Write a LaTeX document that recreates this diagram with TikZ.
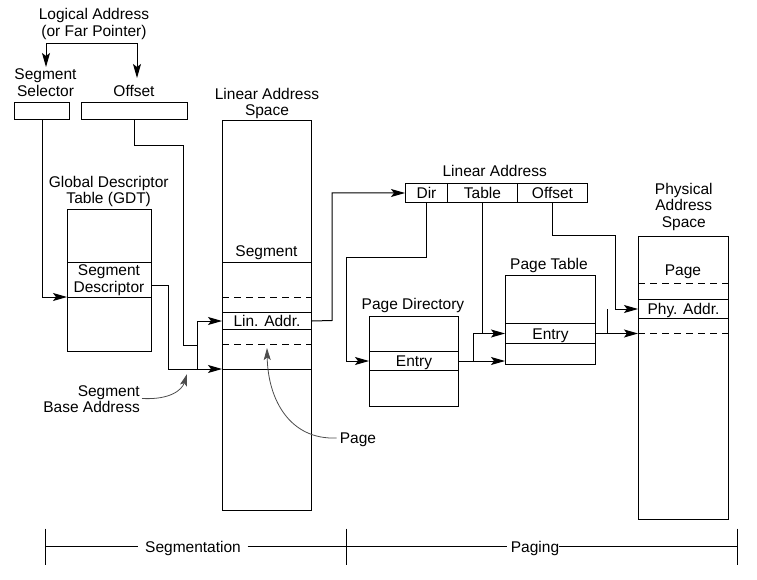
\documentclass[tikz,border=0pt]{standalone}
\usepackage{fontspec}
\setmainfont{Liberation Sans}
\usetikzlibrary{arrows.meta}
\begin{document}
\begin{tikzpicture}[x=1pt,y=-1pt,
  every node/.style={font=\fontsize{15.5}{16.5}\selectfont, inner sep=0pt, text height=11pt, text depth=0pt, align=center},
  box/.style={draw, line width=1pt, anchor=north west},
  ln/.style={line width=1pt},
  arr/.style={line width=1pt, -{Stealth[length=14pt,width=8pt,inset=3pt]}},
  dline/.style={line width=1pt, dash pattern=on 7pt off 5pt},
  lead/.style={line width=0.8pt, draw=black!70, -{Stealth[length=12pt,width=7pt,inset=2.5pt]}}
]
\useasboundingbox (0,0) rectangle (757,580);

% ---------- labels (multi-line nodes are placed by their last line) ----------
\node (la) at (94,31) {Logical Address\\(or Far Pointer)};
\node (sellbl) at (45.5,91) {Segment\\Selector};
\node (offlbl) at (134,91) {Offset};
\node (laslbl) at (267,110.5) {Linear Address\\Space};
\node (gdtlbl) at (108.7,198) {Global Descriptor\\Table (GDT)};
\node (lalbl) at (494.7,171.2) {Linear Address};
\node (pdlbl) at (413,303.5) {Page Directory};
\node (ptlbl) at (549,263.5) {Page Table};
\node (paslbl) at (683.8,221.5) {Physical\\Address\\Space};
\node[anchor=east, align=right] (sba) at (140,407) {Segment\\Base Address};
\node (pglbl) at (358,438) {Page};

% ---------- boxes ----------
\node[box, minimum width=55pt, minimum height=17pt] (sel) at (14,102) {};
\node[box, minimum width=106pt, minimum height=17pt] (offb) at (81,102) {};

\node[box, minimum width=84pt, minimum height=53pt] (gdt1) at (67,209) {};
\node[box, minimum width=84pt, minimum height=35pt] (gdtd) at (67,262) {};
\node (gdtdlbl) at (109,286.5) {Segment\\Descriptor};
\node[box, minimum width=84pt, minimum height=54pt] (gdt3) at (67,297) {};

\node[box, minimum width=89pt, minimum height=390pt] (las) at (222,120) {};
\node (lasseg) at (266.5,251) {Segment};
\draw[ln] (las.west |- 0,262) -- (las.east |- 0,262);
\draw[dline] (las.west |- 0,297) -- (las.east |- 0,297);
\node[box, minimum width=89pt, minimum height=17pt] (lasl) at (222,312) {Lin. Addr.};
\draw[dline] (las.west |- 0,344) -- (las.east |- 0,344);
\draw[ln] (las.west |- 0,369) -- (las.east |- 0,369);

\node[box, minimum width=42pt, minimum height=19pt] (dir) at (405,183) {Dir};
\node[box, minimum width=70pt, minimum height=19pt] (tab) at (447,183) {Table};
\node[box, minimum width=70pt, minimum height=19pt] (offp) at (517,183) {Offset};

\node[box, minimum width=89pt, minimum height=35pt] (pd1) at (369,316) {};
\node[box, minimum width=89pt, minimum height=19pt] (pde) at (369,351) {Entry};
\node[box, minimum width=89pt, minimum height=36pt] (pd3) at (369,370) {};

\node[box, minimum width=90pt, minimum height=48pt] (pt1) at (505,275) {};
\node[box, minimum width=90pt, minimum height=20pt] (pte) at (505,323) {Entry};
\node[box, minimum width=90pt, minimum height=21pt] (pt3) at (505,343) {};

\node[box, minimum width=90pt, minimum height=283pt] (pas) at (638,236) {};
\node (paspg) at (683,269.5) {Page};
\draw[dline] (pas.west |- 0,283) -- (pas.east |- 0,283);
\node[box, minimum width=90pt, minimum height=19pt] (phy) at (638,299) {Phy. Addr.};
\draw[dline] (pas.west |- 0,333) -- (pas.east |- 0,333);

% ---------- connectors ----------
\coordinate (selT) at (46,67);
\coordinate (offT) at (137,78);
\draw[ln, {Stealth[length=14pt,width=8pt,inset=3pt]}-{Stealth[length=14pt,width=8pt,inset=3pt]}]
  (selT) -- (46,44) -- (137,44) -- (offT);

\draw[arr] (sel.south) |- (gdt3.north west);

\coordinate (j1) at (197,345);
\draw[ln] (offb.south) |- (183,146) |- (j1);

\coordinate (sbase) at (222,369);
\draw[arr] ([yshift=-5pt]gdtd.east) -| (168,369) -- (sbase);
\draw[arr] (197,369) |- (lasl.west);

\draw[lead] ([yshift=8.5pt,xshift=2pt]sba.east) .. controls (170,400) and (182,390) .. (187,374);
\draw[lead] ([xshift=-3pt]pglbl.west) .. controls (290,440) and (268,400) .. (267,348);

\draw[arr] (lasl.east) -- (332,320.5) |- (dir.west);
\draw[arr] (dir.south) |- (346,257) |- (pde.west);
\draw[ln] (tab.south) -- (tab.south |- pte.west);
\draw[arr] (pde.east) -- (pt3.west |- pde.east);
\draw[arr] (473,360.5) |- (pte.west);
\draw[arr] (offp.south) |- (615,235) |- (phy.west);
\draw[arr] (pte.east) -- (pas.west |- pte.east);
\draw[ln] (607,333) -- (607,308.5);

% ---------- bottom bar ----------
\coordinate (t1) at (45,546.5);
\coordinate (t2) at (346,546.5);
\coordinate (t3) at (737,546.5);
\foreach \t in {t1,t2,t3} \draw[ln] ([yshift=18pt]\t) -- ([yshift=-18pt]\t);
\node[inner xsep=6.5pt] (segm) at (193,546.5) {Segmentation};
\node (pag) at (535,546.5) {Paging};
\draw[ln] (t1) -- (segm.west);
\draw[ln] (segm.east) -- (t2) -- ([xshift=-4pt]pag.west);
\draw[ln] (pag.east) -- (t3);
\end{tikzpicture}
\end{document}
